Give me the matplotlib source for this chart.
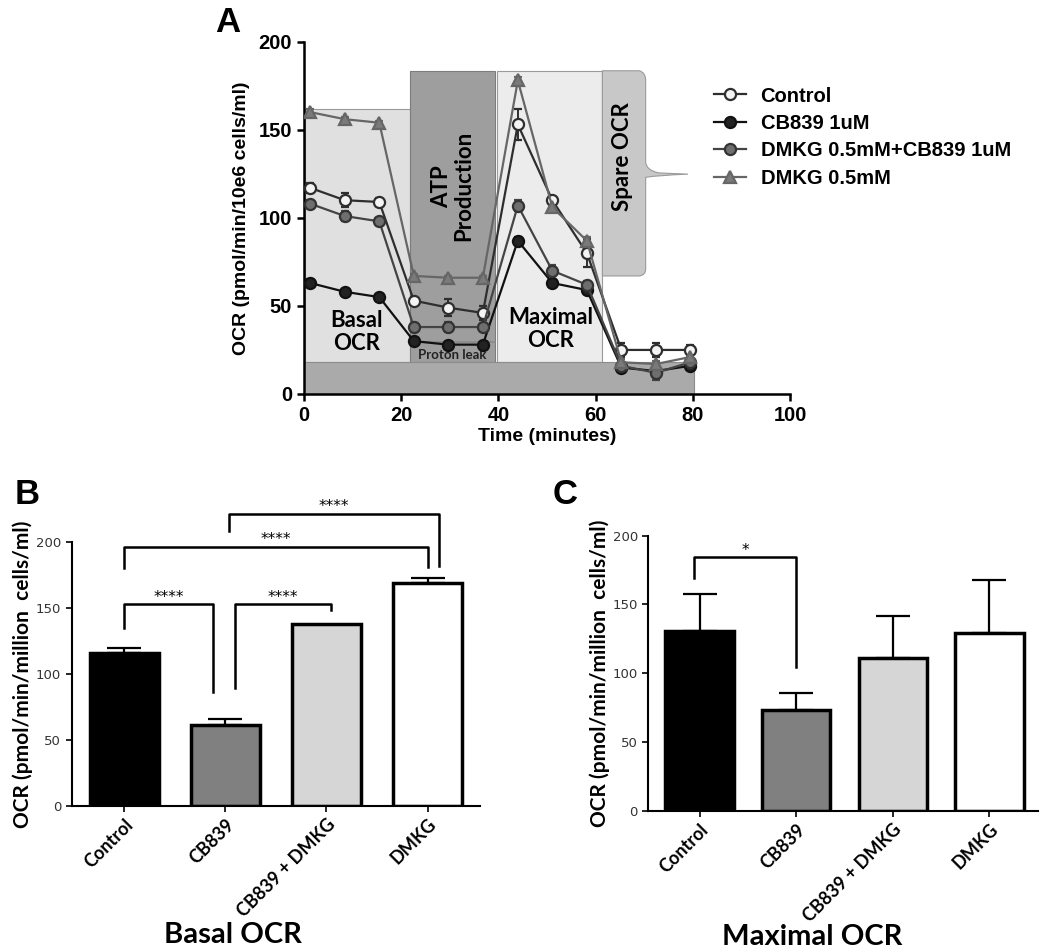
import numpy as np
import matplotlib.pyplot as plt
from matplotlib.patches import Rectangle, PathPatch
from matplotlib.path import Path
from matplotlib.lines import Line2D

# -------------------------------------------------------
# Data - panel A (Seahorse trace)
# -------------------------------------------------------
time_min = [1.3, 8.4, 15.5, 22.6, 29.7, 36.8, 44.0, 51.1, 58.2, 65.3, 72.4, 79.5]

ocr_control = [117, 110, 109, 53, 49, 46, 153, 110, 80, 25, 25, 25]
err_control = [3, 4, 2, 2, 5, 4, 9, 2, 8, 4, 4, 3]

ocr_cb839 = [63, 58, 55, 30, 28, 28, 87, 63, 59, 15, 13, 16]
err_cb839 = [2, 1, 1, 1, 1, 1, 2, 2, 2, 2, 2, 2]

ocr_combo = [108, 101, 98, 38, 38, 38, 107, 70, 62, 16, 12, 18]
err_combo = [2, 3, 2, 2, 3, 2, 3, 3, 2, 2, 4, 2]

ocr_dmkg = [160, 156, 154, 67, 66, 66, 178, 106, 87, 18, 17, 21]
err_dmkg = [2, 1, 1, 1, 1, 1, 2, 2, 2, 2, 2, 2]

series_labels = ["Control", "CB839 1uM", "DMKG 0.5mM+CB839 1uM", "DMKG 0.5mM"]

# -------------------------------------------------------
# Data - panels B and C (bar charts)
# -------------------------------------------------------
groups = ["Control", "CB839", "CB839 + DMKG", "DMKG"]

basal_mean = [115.5, 61.5, 137.5, 169]
basal_err = [4, 4, 0, 3.5]

maximal_mean = [130.5, 73.5, 111, 129]
maximal_err = [27, 12, 30.5, 38.5]

# -------------------------------------------------------
# Figure
# -------------------------------------------------------
fig = plt.figure(figsize=(10.5, 9.5), dpi=100)

arial = "Liberation Sans"
cal_font = "Lato"

# -------------------------------------------------------
# Panel A
# -------------------------------------------------------
axA = fig.add_axes([0.2895, 0.5853, 0.4629, 0.3708])

# phase boxes
axA.add_patch(Rectangle((0, 0), 80.2, 18, fc="#aaaaaa", ec="#8c8c8c", lw=0.8, zorder=1))
axA.add_patch(Rectangle((0.3, 18), 21.5, 143.6, fc="#e0e0e0", ec="#9a9a9a", lw=0.8, zorder=0.5))
axA.add_patch(Rectangle((21.8, 18), 17.5, 165.5, fc="#9e9e9e", ec="#7c7c7c", lw=0.8, zorder=0.6))
axA.plot([21.8, 39.3], [29.5, 29.5], color="#8a8a8a", lw=1.2, zorder=0.7)
axA.add_patch(Rectangle((39.8, 18), 21.5, 165.5, fc="#ececec", ec="#9a9a9a", lw=0.8, zorder=0.5))

# spare OCR brace
verts = [(61.4, 183.5), (69.0, 183.5), (70.3, 182.5), (70.3, 178),
         (70.3, 132), (70.3, 127), (73, 125.5), (79, 124.8),
         (73, 124.2), (70.3, 123), (70.3, 118), (70.3, 71),
         (70.3, 67.5), (69.0, 67), (61.4, 67), (61.4, 183.5)]
codes = [Path.MOVETO, Path.LINETO, Path.CURVE3, Path.CURVE3,
         Path.LINETO, Path.CURVE3, Path.CURVE3, Path.LINETO,
         Path.CURVE3, Path.CURVE3, Path.LINETO, Path.LINETO,
         Path.CURVE3, Path.CURVE3, Path.LINETO, Path.CLOSEPOLY]
axA.add_patch(PathPatch(Path(verts, codes), fc="#c8c8c8", ec="#9a9a9a", lw=0.8, zorder=0.5))

axA.text(10.8, 35, "Basal\nOCR", ha="center", va="center", fontsize=16,
         fontweight="bold", family=cal_font, linespacing=1.1, zorder=2)
axA.text(30.6, 118, "ATP\nProduction", ha="center", va="center", rotation=90,
         fontsize=16, fontweight="bold", family=cal_font, linespacing=1.1, zorder=2)
axA.text(30.5, 22, "Proton leak", ha="center", va="center", fontsize=9.5,
         fontweight="bold", family=cal_font, color="#222222", zorder=2)
axA.text(50.8, 37, "Maximal\nOCR", ha="center", va="center", fontsize=16,
         fontweight="bold", family=cal_font, linespacing=1.1, zorder=2)
axA.text(65.6, 135, "Spare OCR", ha="center", va="center", rotation=90,
         fontsize=16, fontweight="bold", family=cal_font, zorder=2)

styles = [
    dict(color="#2e2e2e", marker="o", mfc="#f4f4f4", mec="#2e2e2e"),
    dict(color="#111111", marker="o", mfc="#222222", mec="#111111"),
    dict(color="#444444", marker="o", mfc="#6e6e6e", mec="#333333"),
    dict(color="#666666", marker="^", mfc="#7a7a7a", mec="#666666"),
]
all_y = [ocr_control, ocr_cb839, ocr_combo, ocr_dmkg]
all_e = [err_control, err_cb839, err_combo, err_dmkg]
handles = []
for yv, ev, st, lab in zip(all_y, all_e, styles, series_labels):
    axA.errorbar(time_min, yv, yerr=ev, color=st["color"], lw=1.6,
                 marker=st["marker"], ms=8, mfc=st["mfc"], mec=st["mec"],
                 mew=1.6, capsize=3, elinewidth=1.4, zorder=3)
    handles.append(Line2D([], [], color=st["color"], lw=1.6, marker=st["marker"],
                          ms=8, mfc=st["mfc"], mec=st["mec"], mew=1.6))

axA.set_xlim(0, 100)
axA.set_ylim(0, 200)
axA.set_xticks([0, 20, 40, 60, 80, 100])
axA.set_yticks([0, 50, 100, 150, 200])
axA.spines["top"].set_visible(False)
axA.spines["right"].set_visible(False)
for s in ["left", "bottom"]:
    axA.spines[s].set_linewidth(1.8)
axA.tick_params(width=1.8, length=5, labelsize=14.5)
for lbl in axA.get_xticklabels() + axA.get_yticklabels():
    lbl.set_fontweight("bold")
    lbl.set_family(arial)
axA.set_xlabel("Time (minutes)", fontsize=14, fontweight="bold", family=arial, labelpad=2)
axA.set_ylabel("OCR (pmol/min/10e6 cells/ml)", fontsize=14, fontweight="bold",
               family=arial, labelpad=6)

fig.legend(handles, series_labels, loc="upper left", bbox_to_anchor=(0.663, 0.928),
           frameon=False, prop=dict(family=arial, weight="bold", size=14.5),
           handlelength=1.6, labelspacing=0.42, handletextpad=0.7)

fig.text(228 / 1050, 1 - 22 / 950, "A", fontsize=25, fontweight="bold",
         family=arial, ha="center", va="center")

# -------------------------------------------------------
# Panels B and C
# -------------------------------------------------------
bar_colors = ["#000000", "#808080", "#d6d6d6", "#ffffff"]


def bar_panel(ax, means, errs, width, xlim):
    x = np.arange(len(groups))
    ax.bar(x, means, width=width, color=bar_colors, edgecolor="black",
           linewidth=2.5, zorder=2)
    for xi, m, e in zip(x, means, errs):
        if e > 0:
            ax.errorbar(xi, m, yerr=[[0], [e]], color="black", capsize=12,
                        elinewidth=1.6, capthick=1.6, zorder=1)
    ax.set_xlim(*xlim)
    ax.set_ylim(0, 200)
    ax.set_yticks([0, 50, 100, 150, 200])
    ax.set_xticks(x)
    ax.set_xticklabels(groups, rotation=45, ha="right", rotation_mode="anchor",
                       fontsize=13, fontweight="bold", family=cal_font)
    ax.spines["top"].set_visible(False)
    ax.spines["right"].set_visible(False)
    for s in ["left", "bottom"]:
        ax.spines[s].set_linewidth(1.5)
    ax.tick_params(axis="y", labelsize=9.5, width=1.2, length=4, labelcolor="#333333")
    ax.tick_params(axis="x", width=1.2, length=4, pad=3)
    ax.set_ylabel("OCR (pmol/min/million  cells/ml)", fontsize=15, fontweight="bold",
                  family=cal_font, labelpad=2)


def bracket(ax, x0, x1, ytop, y0, y1, label, ty):
    ax.plot([x0, x0, x1, x1], [y0, ytop, ytop, y1], color="black", lw=1.8,
            clip_on=False, zorder=4)
    ax.text((x0 + x1) / 2, ty, label, ha="center", va="center", fontsize=11,
            clip_on=False)


axB = fig.add_axes([0.0683, 0.1516, 0.389, 0.278])
bar_panel(axB, basal_mean, basal_err, 0.68, (-0.52, 3.52))
bracket(axB, 0.0, 0.88, 152.8, 134.5, 86, "****", 158)
bracket(axB, 1.1, 2.04, 152.8, 89, 148.3, "****", 158)
bracket(axB, 0.0, 3.0, 196.2, 180, 180.6, "****", 202)
bracket(axB, 1.04, 3.11, 221.4, 208, 182, "****", 227)

axC = fig.add_axes([0.6174, 0.1463, 0.371, 0.29])
bar_panel(axC, maximal_mean, maximal_err, 0.71, (-0.53, 3.5))
bracket(axC, -0.06, 1.0, 184.3, 169, 104.5, "*", 189)

fig.text(27 / 1050, 1 - 495 / 950, "B", fontsize=25, fontweight="bold",
         family=arial, ha="center", va="center")
fig.text(565 / 1050, 1 - 495 / 950, "C", fontsize=25, fontweight="bold",
         family=arial, ha="center", va="center")

fig.text(233 / 1050, 1 - 935 / 950, "Basal OCR", fontsize=21, fontweight="bold",
         family=cal_font, ha="center", va="center")
fig.text(812 / 1050, 1 - 937 / 950, "Maximal OCR", fontsize=21, fontweight="bold",
         family=cal_font, ha="center", va="center")

fig.savefig("out.png", dpi=100)
